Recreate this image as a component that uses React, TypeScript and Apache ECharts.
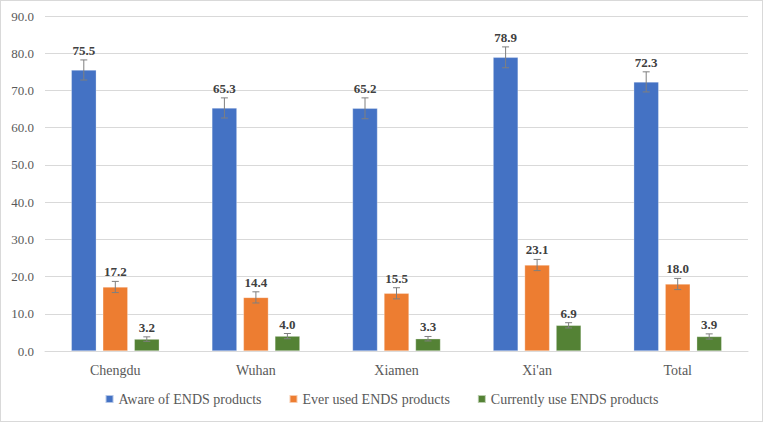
import React, { useEffect, useRef } from "react";
import * as echarts from "echarts";

const categories = ["Chengdu", "Wuhan", "Xiamen", "Xi'an", "Total"];
const seriesNames = ["Aware of ENDS products", "Ever used ENDS products", "Currently use ENDS products"];
const aware = [75.5, 65.3, 65.2, 78.9, 72.3];
const everUsed = [17.2, 14.4, 15.5, 23.1, 18.0];
const currentUse = [3.2, 4.0, 3.3, 6.9, 3.9];
const awareErr = [2.7, 2.7, 2.8, 2.8, 2.7];
const everErr = [1.5, 1.5, 1.5, 1.5, 1.5];
const currentErr = [0.6, 0.7, 0.6, 0.7, 0.7];
const colors = ["#4472C4", "#ED7D31", "#548235"];

const FONT = "'Liberation Serif', serif";
const BAR_W = 25;
const GAP = 6.5;

export default function App() {
  const ref = useRef<HTMLDivElement>(null);
  useEffect(() => {
    if (!ref.current) return;
    const chart = echarts.init(ref.current, null, { renderer: "svg" });
    const values = [aware, everUsed, currentUse];
    const errs = [awareErr, everErr, currentErr];

    const barSeries = values.map((v, i) => ({
      name: seriesNames[i],
      type: "bar",
      data: v,
      barWidth: BAR_W,
      barGap: (GAP / BAR_W) * 100 + "%",
      itemStyle: { color: colors[i], borderColor: "rgba(255,255,255,0.6)", borderWidth: 0.5 },
      z: 2,
    }));

    const errSeries = values.map((v, i) => ({
      name: seriesNames[i] + " error",
      type: "custom",
      z: 5,
      silent: true,
      clip: false,
      data: v.map((val, k) => [k, val, val - errs[i][k], val + errs[i][k]]),
      encode: { x: 0, y: [1, 2, 3] },
      renderItem: (params: any, api: any) => {
        const idx = api.value(0);
        const val = api.value(1);
        const lo = api.coord([idx, api.value(2)]);
        const hi = api.coord([idx, api.value(3)]);
        const off = (i - 1) * (BAR_W + GAP);
        const x = lo[0] + off;
        const cap = 3.5;
        const style = { stroke: "#7f7f7f", lineWidth: 1, fill: "none" };
        return {
          type: "group",
          children: [
            { type: "line", shape: { x1: x, y1: lo[1], x2: x, y2: hi[1] }, style },
            { type: "line", shape: { x1: x - cap, y1: lo[1], x2: x + cap, y2: lo[1] }, style },
            { type: "line", shape: { x1: x - cap, y1: hi[1], x2: x + cap, y2: hi[1] }, style },
            {
              type: "text",
              x: x,
              y: hi[1] - 3,
              style: {
                text: val.toFixed(1),
                fill: "#404040",
                fontFamily: FONT,
                fontSize: 13,
                fontWeight: "bold",
                align: "center",
                verticalAlign: "bottom",
              },
            },
          ],
        };
      },
    }));

    chart.setOption({
      animation: false,
      color: colors,
      textStyle: { fontFamily: FONT },
      grid: { left: 44, right: 14, top: 15, bottom: 70 },
      legend: {
        data: seriesNames,
        bottom: 10,
        left: "center",
        itemWidth: 8,
        itemHeight: 8,
        itemGap: 27,
        icon: "rect",
        textStyle: { fontFamily: FONT, fontSize: 14, color: "#595959" },
      },
      xAxis: {
        type: "category",
        data: categories,
        axisLine: { lineStyle: { color: "#d9d9d9" } },
        axisTick: { show: false },
        axisLabel: { fontFamily: FONT, fontSize: 14, color: "#595959", margin: 12 },
      },
      yAxis: {
        type: "value",
        min: 0,
        max: 90,
        interval: 10,
        axisLine: { show: false },
        axisTick: { show: false },
        splitLine: { lineStyle: { color: "#d9d9d9" } },
        axisLabel: {
          fontFamily: FONT,
          fontSize: 13,
          color: "#595959",
          margin: 11,
          formatter: (v: number) => v.toFixed(1),
        },
      },
      series: [...barSeries, ...errSeries],
    });
    return () => chart.dispose();
  }, []);
  return (
    <div
      ref={ref}
      style={{
        position: "fixed",
        left: 0,
        top: 0,
        width: 763,
        height: 422,
        boxSizing: "border-box",
        border: "1px solid #d9d9d9",
        background: "#fff",
      }}
    />
  );
}
